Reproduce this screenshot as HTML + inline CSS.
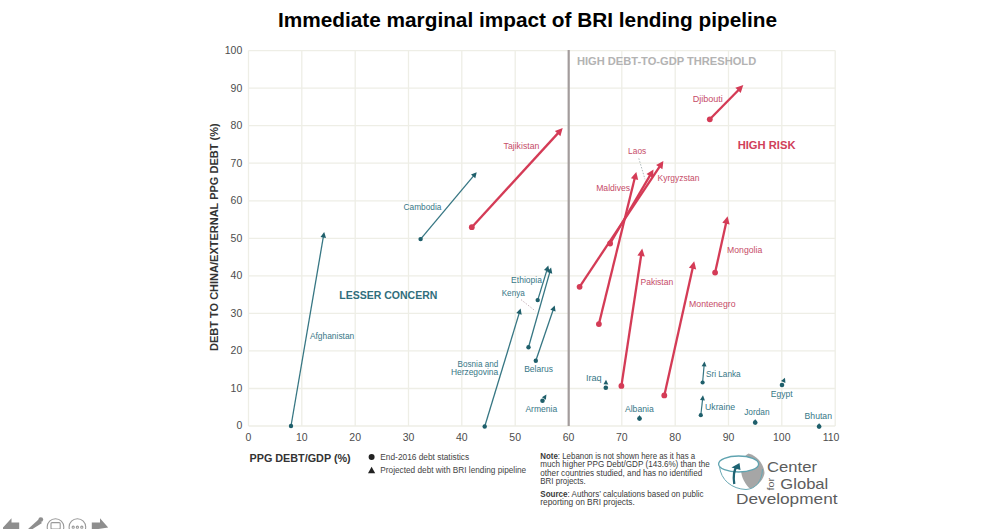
<!DOCTYPE html>
<html><head><meta charset="utf-8"><style>
html,body{margin:0;padding:0;background:#fff;width:1000px;height:529px;overflow:hidden;position:relative;font-family:"Liberation Sans",sans-serif}
.title{position:absolute;left:0;top:8px;width:1000px;text-align:center;font-weight:bold;font-size:20.8px;color:#000;white-space:nowrap}
</style></head><body>
<svg width="1000" height="529" style="position:absolute;left:0;top:0"><g stroke="#eeeee6" stroke-width="1.3"><line x1="248.5" y1="50.6" x2="248.5" y2="426.0"/><line x1="301.8" y1="50.6" x2="301.8" y2="426.0"/><line x1="355.2" y1="50.6" x2="355.2" y2="426.0"/><line x1="408.5" y1="50.6" x2="408.5" y2="426.0"/><line x1="461.8" y1="50.6" x2="461.8" y2="426.0"/><line x1="515.2" y1="50.6" x2="515.2" y2="426.0"/><line x1="568.5" y1="50.6" x2="568.5" y2="426.0"/><line x1="621.8" y1="50.6" x2="621.8" y2="426.0"/><line x1="675.2" y1="50.6" x2="675.2" y2="426.0"/><line x1="728.5" y1="50.6" x2="728.5" y2="426.0"/><line x1="781.8" y1="50.6" x2="781.8" y2="426.0"/><line x1="835.2" y1="50.6" x2="835.2" y2="426.0"/><line x1="248.5" y1="426.0" x2="835.2" y2="426.0"/><line x1="248.5" y1="388.5" x2="835.2" y2="388.5"/><line x1="248.5" y1="350.9" x2="835.2" y2="350.9"/><line x1="248.5" y1="313.4" x2="835.2" y2="313.4"/><line x1="248.5" y1="275.8" x2="835.2" y2="275.8"/><line x1="248.5" y1="238.3" x2="835.2" y2="238.3"/><line x1="248.5" y1="200.8" x2="835.2" y2="200.8"/><line x1="248.5" y1="163.2" x2="835.2" y2="163.2"/><line x1="248.5" y1="125.7" x2="835.2" y2="125.7"/><line x1="248.5" y1="88.1" x2="835.2" y2="88.1"/><line x1="248.5" y1="50.6" x2="835.2" y2="50.6"/></g><line x1="568.7" y1="50" x2="568.7" y2="426" stroke="#a39c9c" stroke-width="2.2"/><line x1="291.0" y1="426.0" x2="323.4" y2="236.5" stroke="#367683" stroke-width="1.3"/><polygon points="324.2,232.1 326.0,238.0 320.5,237.0" fill="#1f5f6b"/><circle cx="291.0" cy="426.0" r="2.2" fill="#1f5f6b"/><line x1="420.6" y1="239.1" x2="473.8" y2="175.6" stroke="#367683" stroke-width="1.3"/><polygon points="476.7,172.2 475.3,178.2 471.0,174.6" fill="#1f5f6b"/><circle cx="420.6" cy="239.1" r="2.2" fill="#1f5f6b"/><line x1="484.7" y1="426.5" x2="519.3" y2="312.9" stroke="#367683" stroke-width="1.3"/><polygon points="520.6,308.6 521.7,314.7 516.3,313.0" fill="#1f5f6b"/><circle cx="484.7" cy="426.5" r="2.2" fill="#1f5f6b"/><line x1="537.7" y1="300.1" x2="547.0" y2="269.9" stroke="#367683" stroke-width="1.3"/><polygon points="548.3,265.6 549.4,271.7 544.0,270.0" fill="#1f5f6b"/><circle cx="537.7" cy="300.1" r="2.2" fill="#1f5f6b"/><line x1="528.5" y1="347.2" x2="549.9" y2="271.9" stroke="#367683" stroke-width="1.3"/><polygon points="551.1,267.6 552.3,273.7 546.9,272.1" fill="#1f5f6b"/><circle cx="528.5" cy="347.2" r="2.2" fill="#1f5f6b"/><line x1="535.8" y1="360.7" x2="553.2" y2="309.7" stroke="#367683" stroke-width="1.3"/><polygon points="554.7,305.4 555.6,311.5 550.3,309.7" fill="#1f5f6b"/><circle cx="535.8" cy="360.7" r="2.2" fill="#1f5f6b"/><circle cx="542.5" cy="400.7" r="2.3" fill="#1f5f6b"/><polygon points="546.4,394.6 545.9,399.8 541.9,397.2" fill="#1f5f6b"/><circle cx="605.8" cy="387.8" r="2.3" fill="#1f5f6b"/><polygon points="606.0,379.8 608.3,384.5 603.5,384.3" fill="#1f5f6b"/><circle cx="782.0" cy="385.0" r="2.3" fill="#1f5f6b"/><polygon points="785.0,377.8 785.4,383.0 781.0,381.1" fill="#1f5f6b"/><line x1="702.6" y1="382.5" x2="704.1" y2="365.4" stroke="#367683" stroke-width="1.2"/><polygon points="704.5,361.4 706.5,366.6 701.6,366.2" fill="#1f5f6b"/><circle cx="702.6" cy="382.5" r="2.1" fill="#1f5f6b"/><line x1="700.8" y1="415.2" x2="702.6" y2="399.2" stroke="#367683" stroke-width="1.2"/><polygon points="703.0,395.2 704.9,400.4 700.0,399.9" fill="#1f5f6b"/><circle cx="700.8" cy="415.2" r="2.1" fill="#1f5f6b"/><circle cx="639.5" cy="418.6" r="2.3" fill="#1f5f6b"/><polygon points="639.5,415.1 641.8,419.3 637.2,419.3" fill="#1f5f6b"/><circle cx="755.2" cy="422.6" r="2.3" fill="#1f5f6b"/><polygon points="755.2,419.1 757.5,423.3 752.9,423.3" fill="#1f5f6b"/><circle cx="819.1" cy="426.6" r="2.3" fill="#1f5f6b"/><polygon points="819.1,423.1 821.4,427.3 816.8,427.3" fill="#1f5f6b"/><line x1="471.8" y1="227.2" x2="558.3" y2="132.9" stroke="#d43b56" stroke-width="2.3"/><polygon points="562.7,128.1 560.4,136.2 554.9,131.1" fill="#d43b56"/><circle cx="471.8" cy="227.2" r="2.9" fill="#d43b56"/><line x1="709.8" y1="119.3" x2="738.8" y2="89.7" stroke="#d43b56" stroke-width="2.3"/><polygon points="743.3,85.0 740.7,93.0 735.4,87.7" fill="#d43b56"/><circle cx="709.8" cy="119.3" r="2.9" fill="#d43b56"/><line x1="598.9" y1="324.1" x2="634.7" y2="178.2" stroke="#d43b56" stroke-width="2.3"/><polygon points="636.3,171.9 638.2,180.1 630.9,178.3" fill="#d43b56"/><circle cx="598.9" cy="324.1" r="2.9" fill="#d43b56"/><line x1="579.6" y1="286.8" x2="659.8" y2="166.3" stroke="#d43b56" stroke-width="2.3"/><polygon points="663.4,160.9 662.4,169.2 656.1,165.1" fill="#d43b56"/><circle cx="579.6" cy="286.8" r="2.9" fill="#d43b56"/><line x1="610.1" y1="243.5" x2="650.2" y2="175.1" stroke="#d43b56" stroke-width="2.3"/><polygon points="653.5,169.5 652.9,177.9 646.5,174.1" fill="#d43b56"/><circle cx="610.1" cy="243.5" r="2.9" fill="#d43b56"/><line x1="621.4" y1="385.9" x2="641.2" y2="255.0" stroke="#d43b56" stroke-width="2.3"/><polygon points="642.2,248.6 644.8,256.6 637.4,255.5" fill="#d43b56"/><circle cx="621.4" cy="385.9" r="2.9" fill="#d43b56"/><line x1="664.3" y1="395.4" x2="692.8" y2="267.6" stroke="#d43b56" stroke-width="2.3"/><polygon points="694.2,261.3 696.2,269.4 688.9,267.8" fill="#d43b56"/><circle cx="664.3" cy="395.4" r="2.9" fill="#d43b56"/><line x1="715.1" y1="272.6" x2="726.2" y2="222.6" stroke="#d43b56" stroke-width="2.3"/><polygon points="727.6,216.3 729.6,224.4 722.3,222.8" fill="#d43b56"/><circle cx="715.1" cy="272.6" r="2.9" fill="#d43b56"/><line x1="521" y1="299.6" x2="535.4" y2="311" stroke="#b9a0a8" stroke-width="0.8" stroke-dasharray="1.5,1.5"/><line x1="638.8" y1="158.4" x2="645" y2="179.3" stroke="#9aa8aa" stroke-width="0.8" stroke-dasharray="1.5,1.5"/></svg>
<svg width="1000" height="529" style="position:absolute;left:0;top:0;font-family:'Liberation Sans',sans-serif"><text x="309.9" y="338.6" fill="#377787" font-size="8.8" font-weight="normal" text-anchor="start" textLength="44.4" lengthAdjust="spacingAndGlyphs" >Afghanistan</text><text x="403.5" y="209.9" fill="#377787" font-size="8.8" font-weight="normal" text-anchor="start" textLength="37.9" lengthAdjust="spacingAndGlyphs" >Cambodia</text><text x="457.6" y="366.5" fill="#377787" font-size="8.8" font-weight="normal" text-anchor="start" textLength="40.6" lengthAdjust="spacingAndGlyphs" >Bosnia and</text><text x="450.9" y="374.8" fill="#377787" font-size="8.8" font-weight="normal" text-anchor="start" textLength="47.3" lengthAdjust="spacingAndGlyphs" >Herzegovina</text><text x="511.1" y="283.3" fill="#377787" font-size="8.8" font-weight="normal" text-anchor="start" textLength="30.8" lengthAdjust="spacingAndGlyphs" >Ethiopia</text><text x="501.7" y="296.2" fill="#377787" font-size="8.8" font-weight="normal" text-anchor="start" textLength="23.1" lengthAdjust="spacingAndGlyphs" >Kenya</text><text x="524.2" y="372.1" fill="#377787" font-size="8.8" font-weight="normal" text-anchor="start" textLength="28.8" lengthAdjust="spacingAndGlyphs" >Belarus</text><text x="525.4" y="411.9" fill="#377787" font-size="8.8" font-weight="normal" text-anchor="start" textLength="31.8" lengthAdjust="spacingAndGlyphs" >Armenia</text><text x="585.9" y="381.2" fill="#377787" font-size="8.8" font-weight="normal" text-anchor="start" textLength="15.8" lengthAdjust="spacingAndGlyphs" >Iraq</text><text x="624.9" y="411.6" fill="#377787" font-size="8.8" font-weight="normal" text-anchor="start" textLength="28.9" lengthAdjust="spacingAndGlyphs" >Albania</text><text x="705.9" y="377.2" fill="#377787" font-size="8.8" font-weight="normal" text-anchor="start" textLength="34.8" lengthAdjust="spacingAndGlyphs" >Sri Lanka</text><text x="705.0" y="409.9" fill="#377787" font-size="8.8" font-weight="normal" text-anchor="start" textLength="30.1" lengthAdjust="spacingAndGlyphs" >Ukraine</text><text x="744.2" y="414.6" fill="#377787" font-size="8.8" font-weight="normal" text-anchor="start" textLength="25.4" lengthAdjust="spacingAndGlyphs" >Jordan</text><text x="770.8" y="397.0" fill="#377787" font-size="8.8" font-weight="normal" text-anchor="start" textLength="21.9" lengthAdjust="spacingAndGlyphs" >Egypt</text><text x="804.6" y="419.1" fill="#377787" font-size="8.8" font-weight="normal" text-anchor="start" textLength="27.4" lengthAdjust="spacingAndGlyphs" >Bhutan</text><text x="503.6" y="149.0" fill="#c64c68" font-size="8.8" font-weight="normal" text-anchor="start" textLength="35.7" lengthAdjust="spacingAndGlyphs" >Tajikistan</text><text x="692.7" y="102.4" fill="#c64c68" font-size="8.8" font-weight="normal" text-anchor="start" textLength="30.2" lengthAdjust="spacingAndGlyphs" >Djibouti</text><text x="628.1" y="154.4" fill="#c64c68" font-size="8.8" font-weight="normal" text-anchor="start" textLength="18.1" lengthAdjust="spacingAndGlyphs" >Laos</text><text x="596.2" y="191.0" fill="#c64c68" font-size="8.8" font-weight="normal" text-anchor="start" textLength="34.0" lengthAdjust="spacingAndGlyphs" >Maldives</text><text x="657.6" y="181.4" fill="#c64c68" font-size="8.8" font-weight="normal" text-anchor="start" textLength="41.9" lengthAdjust="spacingAndGlyphs" >Kyrgyzstan</text><text x="640.5" y="284.9" fill="#c64c68" font-size="8.8" font-weight="normal" text-anchor="start" textLength="32.7" lengthAdjust="spacingAndGlyphs" >Pakistan</text><text x="689.0" y="306.5" fill="#c64c68" font-size="8.8" font-weight="normal" text-anchor="start" textLength="46.6" lengthAdjust="spacingAndGlyphs" >Montenegro</text><text x="727.1" y="252.9" fill="#c64c68" font-size="8.8" font-weight="normal" text-anchor="start" textLength="35.1" lengthAdjust="spacingAndGlyphs" >Mongolia</text><text x="339.3" y="298.9" fill="#2f6e7c" font-size="11.5" font-weight="bold" text-anchor="start" textLength="98.1" lengthAdjust="spacingAndGlyphs" >LESSER CONCERN</text><text x="737.7" y="149.0" fill="#d0405a" font-size="11" font-weight="bold" text-anchor="start" textLength="57.8" lengthAdjust="spacingAndGlyphs" >HIGH RISK</text><text x="576.9" y="65.0" fill="#b3b3b3" font-size="11" font-weight="bold" text-anchor="start" textLength="179.3" lengthAdjust="spacingAndGlyphs" >HIGH DEBT-TO-GDP THRESHOLD</text><text x="242.3" y="429.4" fill="#4d4d4d" font-size="10.5" font-weight="normal" text-anchor="end" >0</text><text x="242.3" y="391.8" fill="#4d4d4d" font-size="10.5" font-weight="normal" text-anchor="end" >10</text><text x="242.3" y="354.3" fill="#4d4d4d" font-size="10.5" font-weight="normal" text-anchor="end" >20</text><text x="242.3" y="316.8" fill="#4d4d4d" font-size="10.5" font-weight="normal" text-anchor="end" >30</text><text x="242.3" y="279.2" fill="#4d4d4d" font-size="10.5" font-weight="normal" text-anchor="end" >40</text><text x="242.3" y="241.7" fill="#4d4d4d" font-size="10.5" font-weight="normal" text-anchor="end" >50</text><text x="242.3" y="204.1" fill="#4d4d4d" font-size="10.5" font-weight="normal" text-anchor="end" >60</text><text x="242.3" y="166.6" fill="#4d4d4d" font-size="10.5" font-weight="normal" text-anchor="end" >70</text><text x="242.3" y="129.1" fill="#4d4d4d" font-size="10.5" font-weight="normal" text-anchor="end" >80</text><text x="242.3" y="91.5" fill="#4d4d4d" font-size="10.5" font-weight="normal" text-anchor="end" >90</text><text x="242.3" y="54.0" fill="#4d4d4d" font-size="10.5" font-weight="normal" text-anchor="end" >100</text><text x="248.5" y="440.6" fill="#4d4d4d" font-size="10.5" font-weight="normal" text-anchor="middle" >0</text><text x="301.8" y="440.6" fill="#4d4d4d" font-size="10.5" font-weight="normal" text-anchor="middle" >10</text><text x="355.2" y="440.6" fill="#4d4d4d" font-size="10.5" font-weight="normal" text-anchor="middle" >20</text><text x="408.5" y="440.6" fill="#4d4d4d" font-size="10.5" font-weight="normal" text-anchor="middle" >30</text><text x="461.8" y="440.6" fill="#4d4d4d" font-size="10.5" font-weight="normal" text-anchor="middle" >40</text><text x="515.2" y="440.6" fill="#4d4d4d" font-size="10.5" font-weight="normal" text-anchor="middle" >50</text><text x="568.5" y="440.6" fill="#4d4d4d" font-size="10.5" font-weight="normal" text-anchor="middle" >60</text><text x="621.8" y="440.6" fill="#4d4d4d" font-size="10.5" font-weight="normal" text-anchor="middle" >70</text><text x="675.2" y="440.6" fill="#4d4d4d" font-size="10.5" font-weight="normal" text-anchor="middle" >80</text><text x="728.5" y="440.6" fill="#4d4d4d" font-size="10.5" font-weight="normal" text-anchor="middle" >90</text><text x="781.8" y="440.6" fill="#4d4d4d" font-size="10.5" font-weight="normal" text-anchor="middle" >100</text><text x="831.0" y="440.6" fill="#4d4d4d" font-size="10.5" font-weight="normal" text-anchor="middle" >110</text><text x="249.5" y="461.7" fill="#333" font-size="10.5" font-weight="bold" text-anchor="start" textLength="101.2" lengthAdjust="spacingAndGlyphs" >PPG DEBT/GDP (%)</text><text x="0" y="0" transform="translate(218,237.2) rotate(-90)" fill="#333" font-size="11" font-weight="bold" text-anchor="middle">DEBT TO CHINA/EXTERNAL PPG DEBT (%)</text><circle cx="371.6" cy="456.9" r="3" fill="#222"/><polygon points="371.6,466.8 375.2,473.2 368,473.2" fill="#222"/><text x="380.3" y="459.7" fill="#444" font-size="8.5" font-weight="normal" text-anchor="start" textLength="88.9" lengthAdjust="spacingAndGlyphs" >End-2016 debt statistics</text><text x="380.3" y="473.3" fill="#444" font-size="8.5" font-weight="normal" text-anchor="start" textLength="145.9" lengthAdjust="spacingAndGlyphs" >Projected debt with BRI lending pipeline</text><text x="540.3" y="459.0" fill="#3a3a3a" font-size="8.8" font-weight="normal" text-anchor="start" textLength="154.9" lengthAdjust="spacingAndGlyphs" ><tspan font-weight="bold">Note</tspan>: Lebanon is not shown here as it has a</text><text x="540.3" y="467.2" fill="#3a3a3a" font-size="8.8" font-weight="normal" text-anchor="start" textLength="169.5" lengthAdjust="spacingAndGlyphs" >much higher PPG Debt/GDP (143.6%) than the</text><text x="540.3" y="475.5" fill="#3a3a3a" font-size="8.8" font-weight="normal" text-anchor="start" textLength="161.9" lengthAdjust="spacingAndGlyphs" >other countries studied, and has no identified</text><text x="540.3" y="484.2" fill="#3a3a3a" font-size="8.8" font-weight="normal" text-anchor="start" textLength="45.4" lengthAdjust="spacingAndGlyphs" >BRI projects.</text><text x="540.3" y="497.2" fill="#3a3a3a" font-size="8.8" font-weight="normal" text-anchor="start" textLength="163.2" lengthAdjust="spacingAndGlyphs" ><tspan font-weight="bold">Source</tspan>: Authors’ calculations based on public</text><text x="540.3" y="505.3" fill="#3a3a3a" font-size="8.8" font-weight="normal" text-anchor="start" textLength="94.5" lengthAdjust="spacingAndGlyphs" >reporting on BRI projects.</text><text x="767" y="472.3" fill="#5c5c5c" font-size="14.8" textLength="50" lengthAdjust="spacingAndGlyphs">Center</text><text x="780.3" y="489.1" fill="#5c5c5c" font-size="14.8" textLength="48" lengthAdjust="spacingAndGlyphs">Global</text><text x="736" y="503.8" fill="#5c5c5c" font-size="14.8" textLength="101.5" lengthAdjust="spacingAndGlyphs">Development</text><text x="0" y="0" transform="translate(774.3,490.5) rotate(-90)" fill="#5c5c5c" font-size="9.5" textLength="12.5" lengthAdjust="spacingAndGlyphs">for</text><path d="M748.5,453.6 C744,456 740.5,462 741,470 C741.5,478 745,484 750,488.8 C757,486.5 763.5,480 764.5,473 C764,465 758,456 748.5,453.6Z" fill="#a6a6a6"/><ellipse cx="738.6" cy="464" rx="20" ry="8" fill="#ffffff" stroke="#5fa3b0" stroke-width="1.3"/><path d="M719.5,466 C720.5,480 732,489 746,489.5 C756,489 762,481 762.5,469" fill="none" stroke="#6aa8b4" stroke-width="1"/><path d="M734.3,484 C733,476 734,470 737,466" fill="none" stroke="#1e6373" stroke-width="2.3"/><polygon points="739.5,463 740.5,470 731.5,467.5" fill="#1e6373"/></svg>
<div class="title"><span id="tt" style="position:relative;left:27.5px">Immediate marginal impact of BRI lending pipeline</span></div>
<svg width="120" height="20" style="position:absolute;left:0;top:513px">
<g fill="#8e8e8e">
<path d="M3,14.5 L11.5,5.2 L11.5,9.5 L19.2,9.5 L19.2,17 L3,17Z"/>
<path d="M27.5,16.5 L38.5,6.5 L42,10 L31,17Z"/>
<circle cx="40.8" cy="6.6" r="2.4"/>
<path d="M91.8,9.5 L100,9.5 L100,5.2 L108.2,14.5 L91.8,17Z"/>
</g>
<g fill="none" stroke="#9a9a9a" stroke-width="1.1">
<circle cx="55.5" cy="14" r="8.3"/>
<circle cx="77.4" cy="14" r="8.3"/>
<rect x="51" y="9.6" width="9.2" height="6.5" rx="1"/>
<circle cx="73.2" cy="14.2" r="1.1"/><circle cx="77.4" cy="14.2" r="1.1"/><circle cx="81.8" cy="14.2" r="1.1"/>
</g>
</svg>
</body></html>
